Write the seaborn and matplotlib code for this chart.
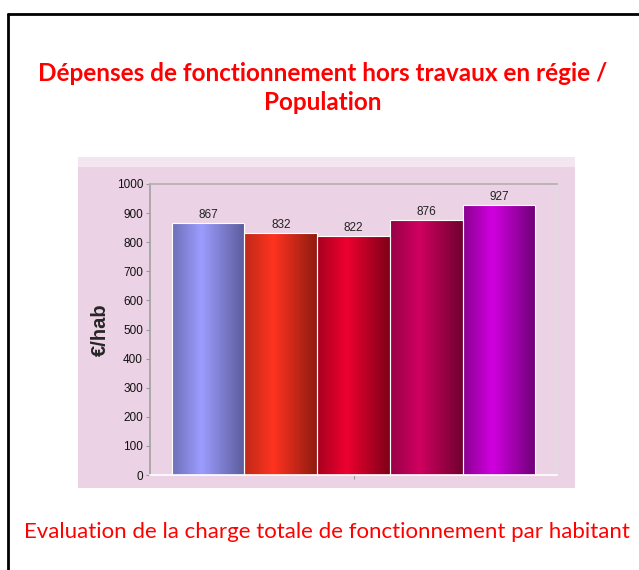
import numpy as np
import pandas as pd
import matplotlib
matplotlib.use("Agg")
import matplotlib.pyplot as plt
import seaborn as sns
from matplotlib.colors import LinearSegmentedColormap
from matplotlib.patches import Rectangle

# data
periods = ["2009", "2010", "2011", "2012", "2013"]
values = [867, 832, 822, 876, 927]
# (dark edge, light centre, darkest right edge)
bar_dark = ["#6e70b8", "#c02a18", "#a8001e", "#980048", "#8a0090"]
bar_light = ["#9c9cff", "#ff3320", "#ee0030", "#d00060", "#d000e0"]
bar_darkest = ["#5c5c9c", "#901c10", "#800018", "#700030", "#700078"]

title = "Dépenses de fonctionnement hors travaux en régie /\nPopulation"
footer = "Evaluation de la charge totale de fonctionnement par habitant"

df = pd.DataFrame({"period": periods, "value": values})

sns.set_style("white")
plt.rcParams["font.family"] = ["Liberation Sans", "DejaVu Sans"]

fig = plt.figure(figsize=(6.39, 5.7), dpi=100)

# page frame (top and left edges visible)
fig.add_artist(plt.Line2D([8 / 639, 8 / 639], [0, 1 - 14 / 570], color="black", lw=2))
fig.add_artist(plt.Line2D([8 / 639, 1], [1 - 14 / 570, 1 - 14 / 570], color="black", lw=2))

# chart panel background
fig.add_artist(Rectangle((78 / 639, 1 - 488 / 570), (575 - 78) / 639, (488 - 157) / 570,
                         transform=fig.transFigure, facecolor="#f3e6f1", edgecolor="none", zorder=0))
fig.add_artist(Rectangle((78 / 639, 1 - 488 / 570), (575 - 78) / 639, (488 - 167) / 570,
                         transform=fig.transFigure, facecolor="#ecd2e5", edgecolor="none", zorder=0))

ax = fig.add_axes([150 / 639, 1 - 475 / 570, 407 / 639, 291 / 570])
ax.set_facecolor("#ecd2e5")

sns.barplot(data=df, x="period", y="value", hue="period", palette=bar_light,
            width=1.0, legend=False, ax=ax, saturation=1)

# gradient fill clipped to each bar
for i, patch in enumerate(ax.patches):
    cmap = LinearSegmentedColormap.from_list(
        f"g{i}", [(0, bar_dark[i]), (0.4, bar_light[i]), (1, bar_darkest[i])])
    x0, y0 = patch.get_x(), patch.get_y()
    w, h = patch.get_width(), patch.get_height()
    grad = np.linspace(0, 1, 64).reshape(1, -1)
    im = ax.imshow(grad, cmap=cmap, aspect="auto", extent=(x0, x0 + w, y0, y0 + h),
                   zorder=patch.get_zorder() + 0.1)
    im.set_clip_path(patch)
    patch.set_edgecolor("white")
    patch.set_linewidth(0.8)
    ax.add_patch(Rectangle((x0, y0), w, h, fill=False, edgecolor="#ffffff",
                           lw=0.8, zorder=patch.get_zorder() + 0.2))
    ax.text(x0 + w / 2, y0 + h + 6, f"{values[i]}", ha="center", va="bottom",
            fontsize=8.5, color="#222222")

ax.set_xlim(-0.8, 4.8)
ax.set_ylim(0, 1000)
ax.set_yticks(range(0, 1001, 100))
ax.set_xticks([2])
ax.set_xticklabels([""])
ax.tick_params(axis="y", left=True, labelsize=8.5, length=3, color="#999999", pad=2,
               labelcolor="#111111")
ax.tick_params(axis="x", bottom=True, length=3, color="#999999")
ax.set_xlabel("")
ax.set_ylabel("€/hab", fontsize=14.5, fontweight="bold", labelpad=5)

for s in ax.spines.values():
    s.set_visible(True)
    s.set_linewidth(1.2)
    s.set_zorder(5)
ax.spines["left"].set_color("#a0a0a0")
ax.spines["top"].set_color("#b0b0b0")
ax.spines["right"].set_color("#dddddd")
ax.spines["bottom"].set_color("white")

fig.text(0.505, 1 - 88 / 570, title, ha="center", va="center", color="#ff0000",
         fontsize=17.5, fontweight="bold", family=["Lato", "DejaVu Sans"], linespacing=1.35)
fig.text(0.512, 1 - 532 / 570, footer, ha="center", va="center", color="#ff0000",
         fontsize=16, family=["Lato", "DejaVu Sans"])

fig.savefig("out.png", dpi=100)
